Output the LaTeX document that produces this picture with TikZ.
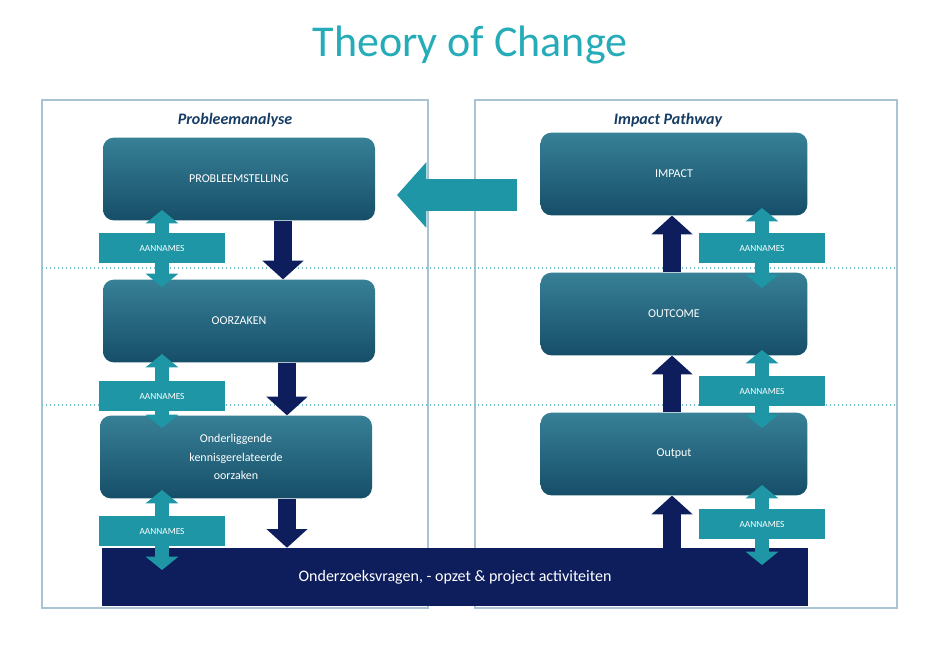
\documentclass[tikz,border=0pt]{standalone}
\usepackage{fontspec}
\setmainfont{Carlito}
\usetikzlibrary{arrows.meta}
\definecolor{tealtitle}{RGB}{38,172,184}
\definecolor{boxtop}{RGB}{55,128,150}
\definecolor{boxbot}{RGB}{22,78,104}
\definecolor{navy}{RGB}{14,30,92}
\definecolor{aqua}{RGB}{30,150,165}
\definecolor{frame}{RGB}{170,195,210}
\definecolor{headblue}{RGB}{22,60,100}
\tikzset{
  stage/.style={rounded corners=8pt, top color=boxtop, bottom color=boxbot, draw=none,
    minimum width=204pt, minimum height=62pt, text=white, font=\small, align=center},
  aannames/.style={fill=aqua, minimum width=95pt, minimum height=22pt, text=white, font=\scriptsize},
  down/.style={navy, line width=13pt, -{Triangle[width=30pt,length=14pt]}},
  assume/.style={aqua, line width=11pt, {Triangle[width=24pt,length=10pt]}-{Triangle[width=24pt,length=10pt]}},
}
\begin{document}
\begin{tikzpicture}[x=0.75pt, y=-0.75pt]
    \useasboundingbox (0,0) rectangle (941,658);
    \node[text=tealtitle, font=\fontsize{33}{36}\selectfont] (title) at (470,45) {Theory of Change};

    % panels
    \draw[frame, line width=1pt] (42,100) rectangle (428,608);
    \draw[frame, line width=1pt] (475,100) rectangle (897,608);
    \draw[aqua!60, dotted, line width=1pt] (42,268) -- (897,268);
    \draw[aqua!60, dotted, line width=1pt] (42,405) -- (897,405);
    \node[text=headblue, font=\large\bfseries\itshape] (lhead) at (235,120) {Probleemanalyse};
    \node[text=headblue, font=\large\bfseries\itshape] (rhead) at (668,120) {Impact Pathway};

    % left column
    \node[stage] (probleem) at (239,179) {PROBLEEMSTELLING};
    \node[stage] (oorzaken) at (239,321) {OORZAKEN};
    \node[stage] (onder) at (236,457) {\textsc{Onderliggende}\\[3pt] \textsc{kennisgerelateerde}\\[3pt] \textsc{oorzaken}};

    % right column
    \node[stage, minimum width=200pt] (impact) at (674,174) {IMPACT};
    \node[stage, minimum width=200pt] (outcome) at (674,314) {OUTCOME};
    \node[stage, minimum width=200pt] (output) at (674,454) {\textsc{Output}};

    % bottom bar
    \node[fill=navy, minimum width=529.5pt, minimum height=43.5pt, text=white, font=\large] (vragen) at (455,577)
        {\textsc{Onderzoeksvragen, - opzet \& project activiteiten}};

    % flow arrows
    \draw[down] (probleem.south -| 283,0) -- (oorzaken.north -| 283,0);
    \draw[down] (oorzaken.south -| 287,0) -- (onder.north -| 287,0);
    \draw[down] (onder.south -| 287,0) -- (vragen.north -| 287,0);
    \draw[down] (vragen.north -| 672,0) -- (output.south -| 672,0);
    \draw[down] (output.north -| 672,0) -- (outcome.south -| 672,0);
    \draw[down] (outcome.north -| 672,0) -- (impact.south -| 672,0);
    \draw[aqua, line width=24pt, -{Triangle[width=48pt,length=22pt]}] (517,195) -- (397,195);

    % assumptions
    \foreach \x/\y/\a/\b/\n in {162/248/210/287/la, 162/396/354/428/lb, 162/531/490/570/lc,
                                762/248/208/288/ra, 762/391/350/428/rb, 762/524/485/565/rc} {
        \coordinate (\n top) at (\x,\a);
        \coordinate (\n bot) at (\x,\b);
        \draw[assume] (\n top) -- (\n bot);
        \node[aannames] (\n) at (\x,\y) {AANNAMES};
    }
\end{tikzpicture}
\end{document}
